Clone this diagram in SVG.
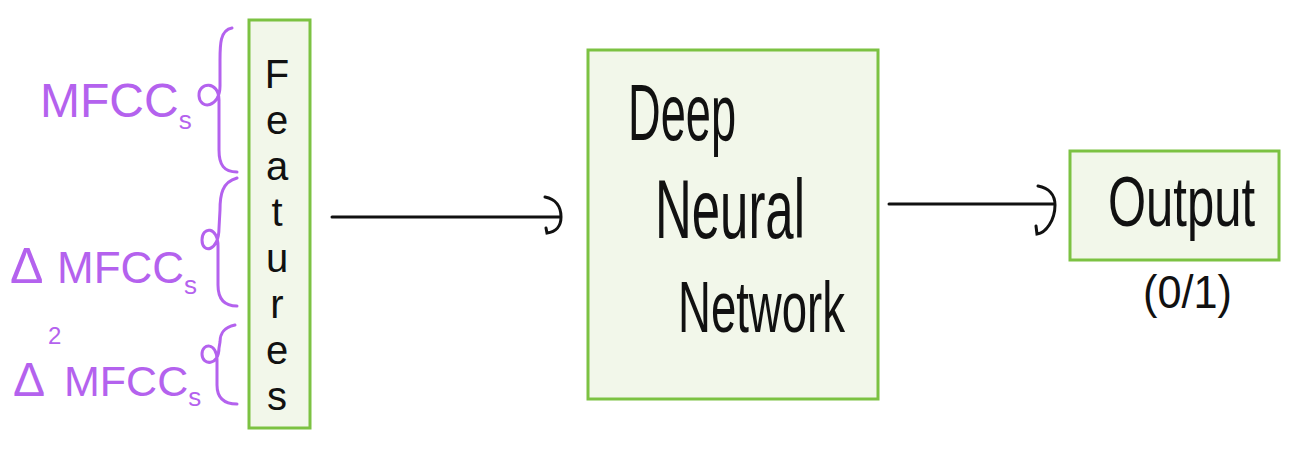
<svg xmlns="http://www.w3.org/2000/svg" width="1293" height="461" viewBox="0 0 1293 461">
<style>
.box{fill:#f2f7ea;stroke:#7cc242;stroke-width:3}
.hw{font-family:"Liberation Sans",sans-serif;fill:#111;}
.pl{font-family:"Liberation Sans",sans-serif;fill:#b462ee;}
.br{fill:none;stroke:#b462ee;stroke-width:3;stroke-linecap:round;stroke-linejoin:round}
.cn{fill:none;stroke:#111;stroke-width:3;stroke-linecap:round}
</style>
<rect width="1293" height="461" fill="#fff"/>
<g id="features">
<rect class="box" x="249" y="20" width="61" height="408"/>
<text class="hw" font-size="40" text-anchor="middle"><tspan x="277" y="88">F</tspan><tspan x="277" y="134">e</tspan><tspan x="277" y="180">a</tspan><tspan x="277" y="226">t</tspan><tspan x="277" y="272">u</tspan><tspan x="277" y="318">r</tspan><tspan x="277" y="364">e</tspan><tspan x="277" y="410">s</tspan></text>
</g>
<g id="labels">
<text class="pl" x="40" y="117" font-size="48">MFCC<tspan dy="12" font-size="26">s</tspan></text>
<path class="br" d="M232,28 C220,30 220,45 220,60 L220,86 C220,108 200,110 199,96 C198,82 219,80 219,100 L219,150 C219,165 224,172 237,172"/>
<text class="pl" x="10" y="283" font-size="50">Δ<tspan x="57" font-size="44">MFCC</tspan><tspan dy="11" font-size="26">s</tspan></text>
<path class="br" d="M237,178 C222,182 220,195 220,210 L219,228 C219,252 202,254 202,240 C202,226 218,226 218,246 L218,285 C218,300 225,306 237,306"/>
<text class="pl" x="13" y="396" font-size="48">Δ<tspan x="48" dy="-52" font-size="24">2</tspan><tspan x="64" dy="52" font-size="43">MFCC</tspan><tspan dy="10" font-size="26">s</tspan></text>
<path class="br" d="M235,325 C222,328 220,335 220,342 L219,348 C219,366 202,366 202,354 C202,343 217,342 217,360 L217,385 C217,398 224,404 237,404"/>
</g>
<g id="dnn">
<rect class="box" x="588" y="50" width="290" height="349"/>
<text class="hw" x="628" y="140" font-size="80" textLength="108" lengthAdjust="spacingAndGlyphs">Deep</text>
<text class="hw" x="655" y="238" font-size="84" textLength="150" lengthAdjust="spacingAndGlyphs">Neural</text>
<text class="hw" x="678" y="332" font-size="72" textLength="167" lengthAdjust="spacingAndGlyphs">Network</text>
</g>
<g id="output">
<rect class="box" x="1070" y="151" width="209" height="109"/>
<text class="hw" transform="translate(1108,226) scale(1,1.2)" x="0" y="0" font-size="58" textLength="147" lengthAdjust="spacingAndGlyphs">Output</text>
<text class="hw" x="1143" y="308" font-size="46" textLength="89" lengthAdjust="spacingAndGlyphs">(0/1)</text>
</g>
<g id="connectors">
<path class="cn" d="M332,217 L560,217"/>
<path class="cn" d="M545,197 C556,199 561,207 561,217 C561,226 556,232 547,233 L546,228"/>
<path class="cn" d="M889,204 L1054,204"/>
<path class="cn" d="M1038,186 C1049,188 1055,195 1055,205 C1055,220 1046,233 1037,234 L1036,226"/>
</g>
</svg>
